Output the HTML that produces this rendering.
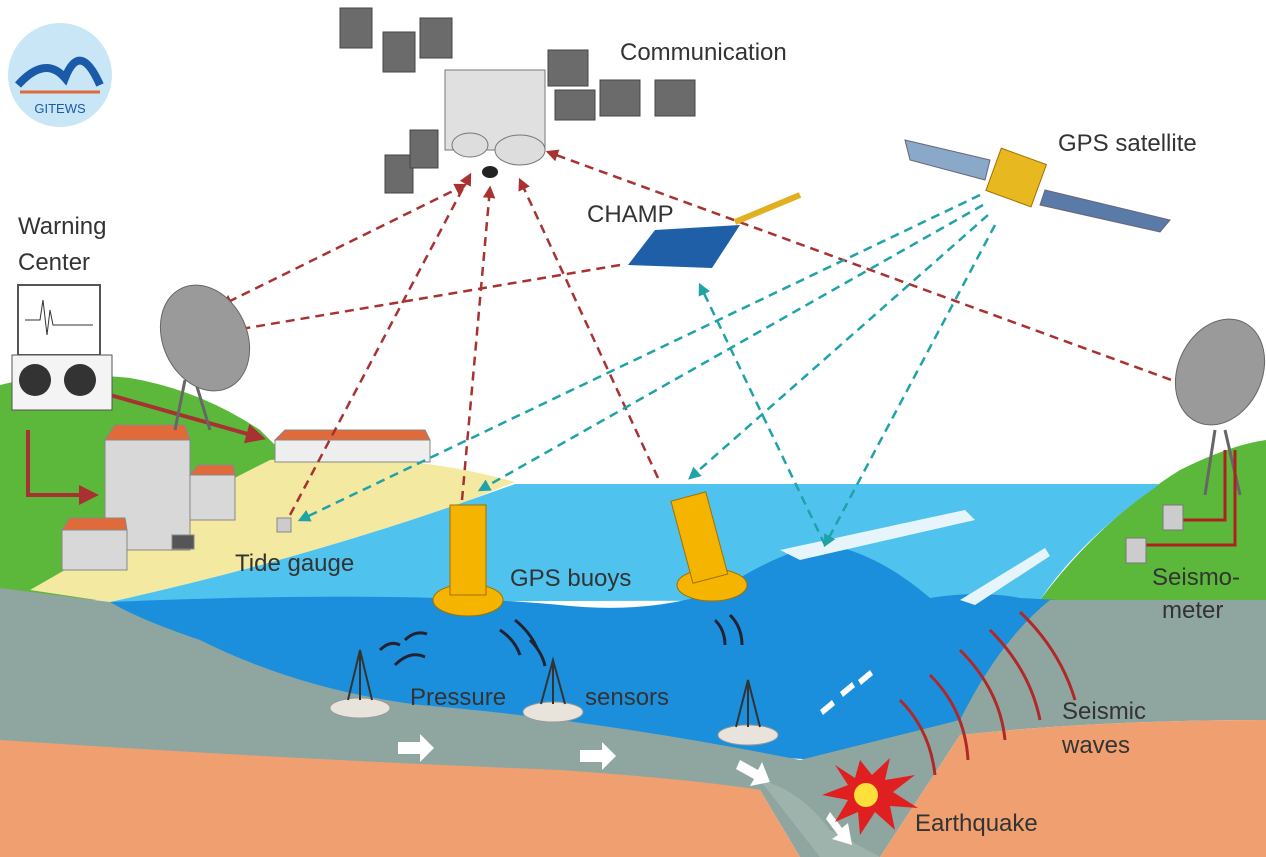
<!DOCTYPE html>
<html><head><meta charset="utf-8"><style>
html,body{margin:0;padding:0;background:#fff;}
svg{display:block;}
text{font-family:"Liberation Sans",sans-serif;fill:#333;}
</style></head><body>
<svg width="1266" height="857" viewBox="0 0 1266 857" xmlns="http://www.w3.org/2000/svg">
<defs>
<marker id="ar" viewBox="0 0 10 10" refX="8" refY="5" markerWidth="5" markerHeight="5" orient="auto-start-reverse"><path d="M0,0 L10,5 L0,10 z" fill="#a83232"/></marker>
<marker id="ac" viewBox="0 0 10 10" refX="8" refY="5" markerWidth="5" markerHeight="5" orient="auto-start-reverse"><path d="M0,0 L10,5 L0,10 z" fill="#1fa3a8"/></marker>
</defs>
<rect width="1266" height="857" fill="#fff"/>
<!-- left green land -->
<path d="M0,385 Q60,370 130,378 Q200,390 260,430 L300,470 L120,600 L0,600 Z" fill="#5cb83a"/>
<!-- right green hill -->
<path d="M1040,600 Q1100,520 1180,470 Q1230,445 1266,440 L1266,600 Z" fill="#5cb83a"/>
<!-- beach -->
<path d="M30,590 Q150,520 270,460 Q400,450 515,482 L470,500 Q300,560 110,602 Z" fill="#f3e9a0"/>
<!-- light sea -->
<path d="M110,602 Q300,560 470,500 L515,484 L1160,484 Q1080,540 1040,600 Z" fill="#4fc3ee"/>
<!-- darker water -->
<path d="M110,602 Q400,590 560,605 Q650,615 720,590 Q790,545 830,545 Q880,555 930,598 Q980,590 1020,598 L1060,600 L960,720 L820,760 L120,720 Z" fill="#1c8fdc"/>
<!-- crust -->
<path d="M0,588 L110,602 Q140,620 200,640 Q300,690 420,705 Q600,720 800,760 L960,720 Q1000,640 1050,600 L1266,600 L1266,720 Q1100,720 960,735 L880,857 L800,857 L760,790 Q600,770 0,760 Z" fill="#8fa6a0"/>
<!-- mantle -->
<path d="M0,740 Q300,760 560,770 Q700,780 760,790 L800,857 L0,857 Z" fill="#f0a070"/>
<path d="M960,735 Q1100,720 1266,720 L1266,857 L880,857 Z" fill="#f0a070"/>
<!-- slab -->
<path d="M760,780 Q800,790 830,830 L880,857 L820,857 Z" fill="#9fb3ad"/>
<!-- wave streaks -->
<path d="M780,550 L965,510 L975,520 L800,560 Z" fill="#e6f4fb"/>
<path d="M960,600 L1045,548 L1050,556 L975,605 Z" fill="#e6f4fb"/>
<!-- seismic waves -->
<g fill="none" stroke="#b02828" stroke-width="3">
<path d="M1020,612 Q1060,650 1075,700"/><path d="M990,630 Q1030,670 1040,720"/><path d="M960,650 Q1000,690 1005,740"/><path d="M930,675 Q965,710 968,760"/><path d="M900,700 Q930,730 935,775"/>
</g>
<!-- sonar arcs -->
<g fill="none" stroke="#223" stroke-width="3">
<path d="M380,650 q10,-10 20,-5"/><path d="M395,665 q15,-15 30,-8"/><path d="M405,640 q10,-10 22,-6"/>
<path d="M500,630 q15,10 20,25"/><path d="M515,620 q15,12 22,28"/><path d="M530,640 q12,12 15,26"/>
<path d="M715,620 q10,10 10,25"/><path d="M730,615 q12,12 12,30"/>
</g>
<!-- white arrows -->
<g fill="#fff">
<path d="M398,742 h22 v-8 l14,14 l-14,14 v-8 h-22 z"/>
<path d="M580,750 h22 v-8 l14,14 l-14,14 v-8 h-22 z"/>
<path d="M740,760 l18,10 l4,-8 l8,20 l-20,4 l4,-7 l-18,-10 z"/>
<path d="M830,812 l12,16 l6,-5 l4,22 l-20,-6 l6,-4 l-12,-16 z"/>
<path d="M820,710 l12,-10 l3,5 l-12,10 z"/><path d="M840,692 l12,-10 l3,5 l-12,10 z"/><path d="M858,680 l12,-10 l3,5 l-12,10 z"/>
</g>
<!-- earthquake -->
<polygon points="860,760 872,775 890,758 885,780 915,775 893,792 918,808 890,806 895,830 875,812 860,835 858,812 835,822 848,800 822,795 848,785 835,765 855,778" fill="#e02020"/>
<circle cx="866" cy="795" r="12" fill="#ffe03a"/>
<!-- pressure sensors -->
<g fill="#e8e4dc" stroke="#999">
<ellipse cx="360" cy="708" rx="30" ry="10"/><ellipse cx="553" cy="712" rx="30" ry="10"/><ellipse cx="748" cy="735" rx="30" ry="10"/>
</g>
<g stroke="#333" stroke-width="2" fill="none">
<path d="M348,700 L360,650 L372,700 M360,650 L360,700"/><path d="M541,704 L553,660 L565,704 M553,660 L553,704"/><path d="M736,727 L748,680 L760,727 M748,680 L748,727"/>
</g>
<!-- buoys -->
<g fill="#f4b400" stroke="#a07000">
<ellipse cx="468" cy="600" rx="35" ry="16"/><rect x="450" y="505" width="36" height="90"/>
<ellipse cx="712" cy="585" rx="35" ry="16"/><rect x="682" y="495" width="36" height="85" transform="rotate(-15 700 540)"/>
</g>
<!-- buildings -->
<g stroke="#888">
<rect x="105" y="440" width="85" height="110" fill="#d8d8d8"/><path d="M105,440 l10,-15 h70 l5,15 z" fill="#e06a3a"/>
<rect x="190" y="475" width="45" height="45" fill="#d8d8d8"/><path d="M190,475 l8,-10 h35 l2,10z" fill="#e06a3a"/>
<rect x="62" y="530" width="65" height="40" fill="#d8d8d8"/><path d="M62,530 l8,-12 h55 l2,12z" fill="#e06a3a"/>
<rect x="275" y="440" width="155" height="22" fill="#eee"/><path d="M275,440 l10,-10 h140 l5,10z" fill="#e06a3a"/>
<rect x="277" y="518" width="14" height="14" fill="#ccc"/>
<rect x="172" y="535" width="22" height="14" fill="#555"/>
</g>
<!-- red arrows -->
<g stroke="#a83232" stroke-width="2.5" stroke-dasharray="9,6" fill="none" marker-end="url(#ar)">
<path d="M110,395 L262,438" stroke-dasharray="none" stroke-width="4"/>
<path d="M28,430 L28,495 L95,495" stroke-dasharray="none" stroke-width="4"/>
<path d="M465,185 L222,305" marker-start="url(#ar)"/>
<path d="M620,265 L235,330"/>
<path d="M290,515 L470,175"/>
<path d="M462,500 L490,188"/>
<path d="M658,478 L520,180"/>
<path d="M1185,385 L548,152"/>
</g>
<!-- cyan arrows -->
<g stroke="#1fa3a8" stroke-width="2.5" stroke-dasharray="9,6" fill="none" marker-end="url(#ac)">
<path d="M980,195 L300,520"/>
<path d="M983,205 L480,490"/>
<path d="M988,215 L690,478"/>
<path d="M995,225 L825,545"/>
<path d="M825,545 L700,285"/>
</g>
<!-- dishes -->
<g>
<path d="M185,380 L175,430 M195,380 L210,430" stroke="#666" stroke-width="3"/>
<ellipse cx="205" cy="338" rx="42" ry="55" fill="#9a9a9a" stroke="#666" transform="rotate(-25 205 338)"/>
<path d="M1215,430 L1205,495 M1225,430 L1240,495" stroke="#666" stroke-width="3"/>
<ellipse cx="1220" cy="372" rx="42" ry="55" fill="#9a9a9a" stroke="#666" transform="rotate(25 1220 372)"/>
</g>
<!-- seismometers -->
<path d="M1225,450 L1225,520 L1175,520 M1235,450 L1235,545 L1140,545" stroke="#b02020" stroke-width="3" fill="none"/>
<rect x="1163" y="505" width="20" height="25" fill="#ccc" stroke="#777"/>
<rect x="1126" y="538" width="20" height="25" fill="#ccc" stroke="#777"/>
<!-- warning center -->
<rect x="18" y="285" width="82" height="70" fill="#fff" stroke="#555" stroke-width="2"/>
<path d="M25,320 h15 l3,-20 l4,35 l3,-25 l3,15 h40" stroke="#333" fill="none"/>
<rect x="12" y="355" width="100" height="55" fill="#f4f4f4" stroke="#555"/>
<circle cx="35" cy="380" r="16" fill="#333"/><circle cx="80" cy="380" r="16" fill="#333"/>
<!-- comm satellite -->
<g fill="#6b6b6b" stroke="#444">
<rect x="340" y="8" width="32" height="40"/><rect x="383" y="32" width="32" height="40"/><rect x="420" y="18" width="32" height="40"/>
<rect x="385" y="155" width="28" height="38"/><rect x="410" y="130" width="28" height="38"/>
<rect x="548" y="50" width="40" height="36"/><rect x="600" y="80" width="40" height="36"/><rect x="655" y="80" width="40" height="36"/><rect x="555" y="90" width="40" height="30"/>
</g>
<rect x="445" y="70" width="100" height="80" fill="#e0e0e0" stroke="#777"/>
<ellipse cx="520" cy="150" rx="25" ry="15" fill="#ddd" stroke="#777"/><ellipse cx="470" cy="145" rx="18" ry="12" fill="#ddd" stroke="#777"/>
<ellipse cx="490" cy="172" rx="8" ry="6" fill="#222"/>
<!-- CHAMP -->
<polygon points="628,265 655,230 740,225 712,268" fill="#1f5fa8"/>
<path d="M735,222 L800,195" stroke="#e0b020" stroke-width="6"/>
<!-- GPS satellite -->
<polygon points="905,140 990,160 985,180 910,160" fill="#8aa8c8" stroke="#667"/>
<polygon points="1045,190 1170,220 1160,232 1040,205" fill="#5a7aa8" stroke="#667"/>
<rect x="992" y="155" width="48" height="45" fill="#e8b820" stroke="#a07000" transform="rotate(20 1016 178)"/>
<!-- logo -->
<circle cx="60" cy="75" r="52" fill="#c8e6f6"/>
<path d="M18,85 Q45,55 65,78 Q80,40 100,85" stroke="#1a5aa8" stroke-width="8" fill="none"/>
<path d="M20,92 h80" stroke="#e06a3a" stroke-width="3"/>
<text x="60" y="113" font-size="13" text-anchor="middle" fill="#1a5aa8" style="fill:#1a5aa8">GITEWS</text>
<!-- labels -->
<g font-size="24">
<text x="620" y="60">Communication</text>
<text x="1058" y="151">GPS satellite</text>
<text x="587" y="222">CHAMP</text>
<text x="18" y="234">Warning</text>
<text x="18" y="270">Center</text>
<text x="235" y="571">Tide gauge</text>
<text x="510" y="586">GPS buoys</text>
<text x="1152" y="585">Seismo-</text>
<text x="1162" y="618">meter</text>
<text x="410" y="705">Pressure</text>
<text x="585" y="705">sensors</text>
<text x="1062" y="719">Seismic</text>
<text x="1062" y="753">waves</text>
<text x="915" y="831">Earthquake</text>
</g>
</svg>
</body></html>
